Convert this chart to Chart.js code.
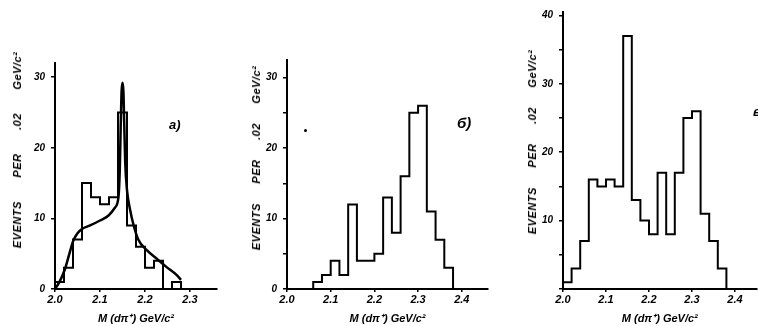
<!DOCTYPE html>
<html><head><meta charset="utf-8">
<script src="https://cdn.jsdelivr.net/npm/chart.js@4/dist/chart.umd.min.js"></script>
<style>
html,body{margin:0;padding:0;background:#fff;width:758px;height:326px;overflow:hidden;}
#wrap{position:relative;width:758px;height:326px;}
canvas{position:absolute;left:0;top:0;}
.ytitle{position:absolute;transform:translate(-50%,-50%) rotate(-90deg);white-space:nowrap;
  font:italic bold 11px 'Liberation Sans Narrow','Liberation Sans',sans-serif;color:#000;word-spacing:16px;letter-spacing:0.5px;}
.lbl{position:absolute;font:italic bold 13px 'Liberation Sans','DejaVu Sans',sans-serif;color:#000;}
.dot{position:absolute;width:3px;height:3px;border-radius:50%;background:#000;}
</style></head><body>
<div id="wrap">
<canvas id="ca" width="758" height="326"></canvas>
<canvas id="cb" width="758" height="326"></canvas>
<canvas id="cc" width="758" height="326"></canvas>
<div class="ytitle" style="left:17px;top:150px;word-spacing:20px;">EVENTS PER .02 GeV/c²</div>
<div class="ytitle" style="left:256px;top:158px;">EVENTS PER .02 GeV/c²</div>
<div class="ytitle" style="left:532px;top:142px;">EVENTS PER .02 GeV/c²</div>
<div class="lbl" style="left:169px;top:117px;">a)</div>
<div class="lbl" style="left:457px;top:114px;font-size:15px;">б)</div>
<div class="lbl" style="left:753px;top:104px;">в)</div>
<div class="dot" style="left:304px;top:129px;"></div>
</div>
<script>
// ---- data (bin edges in GeV/c^2, counts per 0.02 GeV/c^2) ----
const edgesA = [2.00,2.02,2.04,2.06,2.08,2.10,2.12,2.14,2.16,2.18,2.20,2.22,2.24,2.26,2.28];
const countsA = [1,3,7,15,13,12,13,25,9,6,3,4,0,1];
const curveAx = [2.000,2.010,2.022,2.032,2.041,2.050,2.060,2.078,2.100,2.119,2.133,2.141,2.144,2.146,2.148,2.150,2.152,2.154,2.156,2.160,2.167,2.174,2.185,2.204,2.226,2.248,2.270,2.280];
const curveAy = [0.0,1.0,2.8,5.0,6.9,7.9,8.5,9.0,9.7,10.4,11.5,13.0,17.0,23.0,28.0,29.2,28.0,23.0,18.0,14.0,11.2,9.2,7.0,5.5,4.3,3.1,2.0,1.3];

const edgesB = [2.06,2.08,2.10,2.12,2.14,2.16,2.18,2.20,2.22,2.24,2.26,2.28,2.30,2.32,2.34,2.36,2.38];
const countsB = [1,2,4,2,12,4,4,5,13,8,16,25,26,11,7,3];

const edgesC = [2.00,2.02,2.04,2.06,2.08,2.10,2.12,2.14,2.16,2.18,2.20,2.22,2.24,2.26,2.28,2.30,2.32,2.34,2.36,2.38];
const countsC = [1,3,7,16,15,16,15,37,13,10,8,17,8,17,25,26,11,7,3];

const xTicksA = [2.0,2.1,2.2,2.3];
const xTicksB = [2.0,2.1,2.2,2.3,2.4];
const xTicksC = [2.0,2.1,2.2,2.3,2.4];
const yTicksA = [0,10,20,30];
const yLabelsA = [0,10,20,30];
const yTicksB = [0,5,10,15,20,25,30];
const yLabelsB = [0,10,20,30];
const yTicksC = [0,5,10,15,20,25,30,35,40];
const yLabelsC = [10,20,30,40];
const xTitle = 'M (dπ⁺) GeV/c²';

// ---- helpers ----
const FONT = "'Liberation Sans Narrow','Liberation Sans',sans-serif";
const tickFont = {family:FONT, size:11, weight:'bold', style:'italic'};

function stepPoints(edges, counts){
  const pts=[{x:edges[0],y:0}];
  counts.forEach((c,i)=>pts.push({x:edges[i+1],y:c}));
  pts.push({x:edges[edges.length-1],y:0});
  return pts;
}
function histDs(edges,counts){
  // 'after' in Chart.js: vertical at previous x, then horizontal to the target x at target y
  return {data:stepPoints(edges,counts), stepped:'after', borderColor:'#000', borderWidth:2, pointRadius:0, fill:false};
}

function makePanel(id,o){
  new Chart(document.getElementById(id),{
    type:'line',
    data:{datasets:o.datasets},
    options:{
      responsive:false, animation:false, parsing:true,
      layout:{padding:{left:o.padL,right:o.padR,top:o.padT,bottom:0}},
      plugins:{legend:{display:false},tooltip:{enabled:false}},
      elements:{point:{radius:0}},
      scales:{
        x:{type:'linear',min:o.xMin,max:o.xMax,
          afterBuildTicks:ax=>{ax.ticks=o.xTicks.map(v=>({value:v}));},
          afterFit:ax=>{ax.height=37;},
          border:{display:true,color:'#000',width:2},
          grid:{drawOnChartArea:false,drawTicks:true,color:'#000',tickLength:3,lineWidth:1.5},
          ticks:{color:'#000',font:tickFont,padding:1,maxRotation:0,autoSkip:false,callback:v=>Number(v).toFixed(1)},
          title:{display:true,text:xTitle,color:'#000',font:{family:FONT,size:11,weight:'bold',style:'italic'},padding:{top:0,bottom:0}}
        },
        y:{type:'linear',min:0,max:o.yMax,
          afterBuildTicks:ax=>{ax.ticks=o.yTicks.map(v=>({value:v}));},
          afterFit:ax=>{ax.width=o.yW;},
          border:{display:true,color:'#000',width:2},
          grid:{drawOnChartArea:false,drawTicks:true,color:'#000',tickLength:4,lineWidth:1.5},
          ticks:{color:'#000',font:{family:FONT,size:10,weight:'bold',style:'italic'},padding:6,autoSkip:false,
            callback:v=>o.yLabels.includes(v)?String(v):''}
        }
      }
    }
  });
}

makePanel('ca',{
  padL:25,yW:30,padR:541,padT:63,xMin:2.0,xMax:2.36,yMax:32,
  xTicks:xTicksA,yTicks:yTicksA,yLabels:yLabelsA,
  datasets:[
    histDs(edgesA,countsA),
    {data:curveAx.map((x,i)=>({x:x,y:curveAy[i]})),borderColor:'#000',borderWidth:2.5,pointRadius:0,
     cubicInterpolationMode:'monotone',fill:false}
  ]
});
makePanel('cb',{
  padL:257,yW:30,padR:270,padT:60,xMin:2.0,xMax:2.46,yMax:32.5,
  xTicks:xTicksB,yTicks:yTicksB,yLabels:yLabelsB,
  datasets:[histDs(edgesB,countsB)]
});
makePanel('cc',{
  padL:533,yW:30,padR:1.5,padT:7.5,xMin:2.0,xMax:2.45,yMax:40.5,
  xTicks:xTicksC,yTicks:yTicksC,yLabels:yLabelsC,
  datasets:[histDs(edgesC,countsC)]
});
</script>
</body></html>
